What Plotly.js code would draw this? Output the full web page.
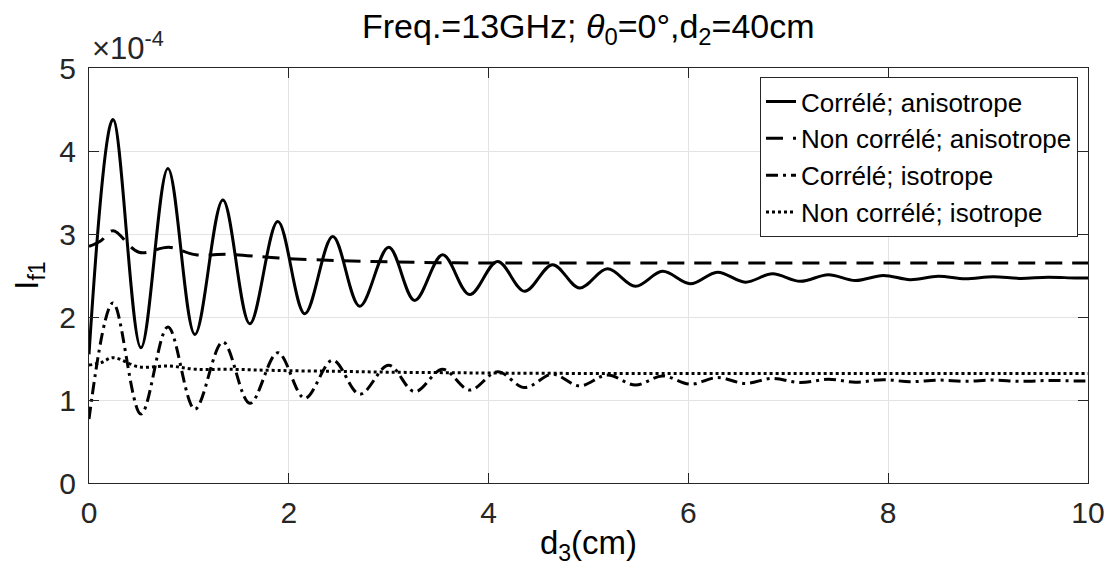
<!DOCTYPE html>
<html><head><meta charset="utf-8">
<script src="https://cdn.plot.ly/plotly-3.0.1.min.js"></script>
<style>html,body{margin:0;padding:0;background:#fff}#chart{width:1109px;height:581px}</style>
</head><body><div id="chart"></div>
<script>
// x positions (cm) of read points for oscillating curves (extrema)
const xOsc = [0, 0.24, 0.52, 0.79, 1.06, 1.34, 1.61, 1.89, 2.16, 2.44, 2.71, 3.0, 3.26, 3.54, 3.81, 4.09, 4.36, 4.64, 4.91, 5.19, 5.47, 5.74, 6.02, 6.29, 6.57, 6.84, 7.12, 7.40, 7.67, 7.95, 8.22, 8.50, 8.77, 9.05, 9.32, 9.60, 9.87, 10];
// values in units of 1e-4
const corrAniso = [1.55, 4.38, 1.63, 3.79, 1.79, 3.41, 1.92, 3.15, 2.04, 2.97, 2.13, 2.84, 2.20, 2.75, 2.27, 2.67, 2.31, 2.63, 2.35, 2.58, 2.37, 2.55, 2.40, 2.54, 2.42, 2.52, 2.43, 2.51, 2.44, 2.50, 2.45, 2.49, 2.46, 2.485, 2.465, 2.48, 2.47, 2.47];
const corrIso = [0.77, 2.17, 0.83, 1.88, 0.89, 1.70, 0.96, 1.57, 1.02, 1.48, 1.07, 1.42, 1.10, 1.37, 1.12, 1.34, 1.15, 1.31, 1.17, 1.30, 1.18, 1.29, 1.19, 1.27, 1.20, 1.26, 1.21, 1.25, 1.215, 1.245, 1.22, 1.24, 1.225, 1.24, 1.225, 1.235, 1.23, 1.23];
// x positions for the nearly flat curves
const xFlat = [0, 0.12, 0.24, 0.5, 0.8, 1.07, 1.4, 1.9, 2.5, 3.0, 3.5, 4.0, 5.0, 6.0, 8.0, 10];
const nonCorrAniso = [2.85, 2.92, 3.04, 2.78, 2.84, 2.75, 2.755, 2.71, 2.68, 2.665, 2.655, 2.65, 2.65, 2.65, 2.65, 2.65];
const nonCorrIso = [1.42, 1.45, 1.51, 1.40, 1.41, 1.37, 1.37, 1.355, 1.345, 1.335, 1.33, 1.325, 1.32, 1.32, 1.32, 1.32];

const names = ['Corrélé; anisotrope', 'Non corrélé; anisotrope', 'Corrélé; isotrope', 'Non corrélé; isotrope'];
const xTicks = [0, 2, 4, 6, 8, 10];
const yTicks = [0, 1, 2, 3, 4, 5];

const FONT = 'Liberation Sans, Arial, Helvetica, sans-serif';
const AX = '#262626';
const LW = 3;

const traces = [
  {x: xOsc, y: corrAniso, name: names[0], line: {color: '#000', width: LW, dash: 'solid'}},
  {x: xFlat, y: nonCorrAniso, name: names[1], line: {color: '#000', width: LW, dash: '17px,10px'}},
  {x: xOsc, y: corrIso, name: names[2], line: {color: '#000', width: LW, dash: '12px,5px,3px,5px'}},
  {x: xFlat, y: nonCorrIso, name: names[3], line: {color: '#000', width: LW, dash: '3px,3px'}}
].map(t => Object.assign({type: 'scatter', mode: 'lines'}, t, {line: Object.assign({shape: 'spline', smoothing: 1}, t.line)}));

const axisCommon = {
  showline: true, linecolor: AX, linewidth: 1, mirror: 'ticks',
  ticks: 'inside', ticklen: 10, tickcolor: AX, tickwidth: 1,
  showgrid: true, gridcolor: '#e3e3e3', gridwidth: 1,
  zeroline: false, tickfont: {family: FONT, size: 30, color: AX},
  automargin: false
};

const layout = {
  width: 1109, height: 581,
  margin: {l: 89, r: 21, t: 68, b: 98},
  paper_bgcolor: '#fff', plot_bgcolor: '#fff',
  font: {family: FONT, color: '#000'},
  title: {text: 'Freq.=13GHz; <i>θ</i><sub>0</sub>=0°,d<sub>2</sub>=40cm', font: {family: FONT, size: 34, color: '#000'},
          x: 0.5305, xref: 'container', xanchor: 'center', y: 0.955, yref: 'container', yanchor: 'middle'},
  xaxis: Object.assign({}, axisCommon, {range: [0, 10], tickvals: xTicks, ticktext: xTicks.map(String),
          ticklabelstandoff: 3,
          title: {text: 'd<sub>3</sub>(cm)', font: {family: FONT, size: 33, color: '#000'}, standoff: 2}}),
  yaxis: Object.assign({}, axisCommon, {range: [0, 5], tickvals: yTicks, ticktext: yTicks.map(String),
          ticklabelstandoff: 6,
          title: {text: 'I<sub>f1</sub>', font: {family: FONT, size: 33, color: '#000'}, standoff: 10}}),
  showlegend: true,
  legend: {x: 0.99, y: 0.978, xanchor: 'right', yanchor: 'top', bgcolor: '#fff',
           bordercolor: AX, borderwidth: 1, font: {family: FONT, size: 26, color: '#000'},
           itemwidth: 30, tracegroupgap: 0},
  annotations: [{text: '×10<sup>-4</sup>', xref: 'paper', yref: 'paper', x: 0, y: 1, xanchor: 'left', yanchor: 'bottom',
                 xshift: 1, yshift: 0, showarrow: false, font: {family: FONT, size: 31, color: AX}}]
};

Plotly.newPlot('chart', traces, layout, {displayModeBar: false, staticPlot: true});
</script>
</body></html>
